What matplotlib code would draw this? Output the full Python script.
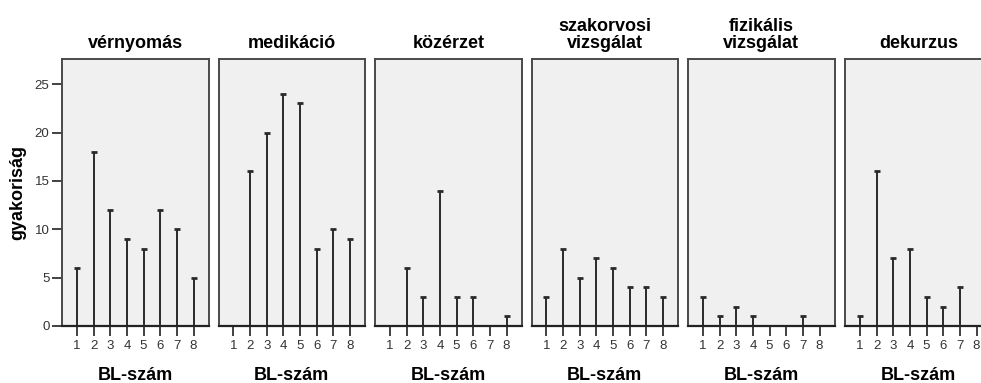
import matplotlib
matplotlib.use("Agg")
import matplotlib.pyplot as plt

plt.rcParams['font.family'] = ['Liberation Sans', 'DejaVu Sans']

titles = ["vérnyomás", "medikáció", "közérzet", "szakorvosi\nvizsgálat",
          "fizikális\nvizsgálat", "dekurzus"]
categories = [1, 2, 3, 4, 5, 6, 7, 8]
vernyomas = [6, 18, 12, 9, 8, 12, 10, 5]
medikacio = [0, 16, 20, 24, 23, 8, 10, 9]
kozerzet = [0, 6, 3, 14, 3, 3, 0, 1]
szakorvosi = [3, 8, 5, 7, 6, 4, 4, 3]
fizikalis = [3, 1, 2, 1, 0, 0, 1, 0]
dekurzus = [1, 16, 7, 8, 3, 2, 4, 0]
series = [vernyomas, medikacio, kozerzet, szakorvosi, fizikalis, dekurzus]
yticks = [0, 5, 10, 15, 20, 25]
xlabel = "BL-szám"
ylabel = "gyakoriság"

W, H = 981, 383
fig = plt.figure(figsize=(W / 100, H / 100), dpi=100)
fig.patch.set_facecolor("white")

lefts = [62, 218.5, 375, 531.5, 688, 845]
pw = 146.5
top_px, bot_px = 59, 326

edge = "#4a4a4a"
stem_c = "#2a2a2a"

for i, (ttl, vals) in enumerate(zip(titles, series)):
    ax = fig.add_axes([lefts[i] / W, (H - bot_px) / H, pw / W, (bot_px - top_px) / H])
    ax.set_facecolor("#f0f0f0")
    xs = [c for c, v in zip(categories, vals) if v > 0]
    vs = [v for v in vals if v > 0]
    ax.vlines(xs, 0, vs, color=stem_c, linewidth=1.4, zorder=3)
    ax.plot(xs, vs, linestyle="none", marker="_", markersize=4.5,
            markeredgewidth=2.0, color=stem_c, zorder=4)
    ax.set_xlim(0.1, 8.9)
    ax.set_ylim(0, 27.6)
    ax.set_xticks(categories)
    ax.set_xticklabels([str(c) for c in categories], fontsize=9.5, color="#333333")
    ax.tick_params(axis="x", length=7, width=1.3, color="#333333", pad=3)
    for s in ax.spines.values():
        s.set_color(edge)
        s.set_linewidth(1.4)
    ax.spines["bottom"].set_color("#222222")
    ax.spines["bottom"].set_linewidth(1.6)
    ax.spines["bottom"].set_zorder(5)
    if i == 0:
        ax.set_yticks(yticks)
        ax.set_yticklabels([str(t) for t in yticks], fontsize=9.5, color="#333333")
        ax.tick_params(axis="y", length=7, width=1.3, color="#333333", pad=2)
        ax.set_ylabel(ylabel, fontsize=13, fontweight="bold", labelpad=6)
    else:
        ax.set_yticks([])
    ax.set_title(ttl, fontsize=13, fontweight="bold", pad=8, linespacing=1.0)
    ax.set_xlabel(xlabel, fontsize=13, fontweight="bold", labelpad=11)

fig.savefig("out.png", dpi=100)
